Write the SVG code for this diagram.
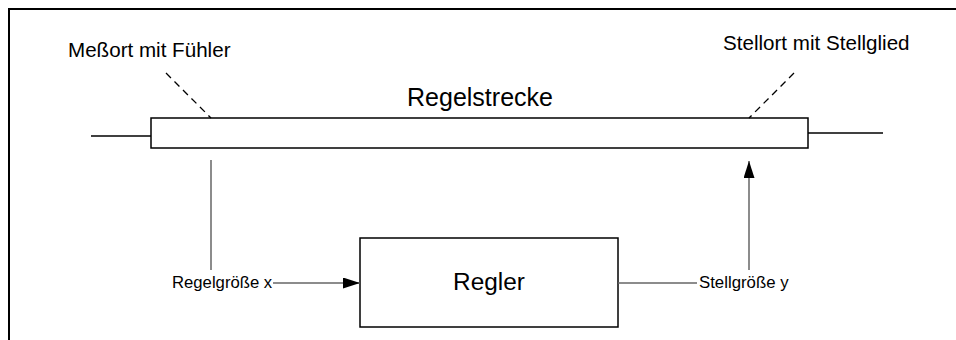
<svg xmlns="http://www.w3.org/2000/svg" width="956" height="340" viewBox="0 0 956 340">
<defs>
<style>
text{font-family:"Liberation Sans",Arial,sans-serif;fill:#000}
.box{fill:#fff;stroke:#000;stroke-width:1.5}
.ln{fill:none;stroke:#000;stroke-width:1.5}
.cn{fill:none;stroke:#666;stroke-width:1.5}
.dash{fill:none;stroke:#000;stroke-width:1.3;stroke-dasharray:7 5}
</style>
<marker id="ah" viewBox="0 0 17 11" refX="17" refY="5.5" markerWidth="17" markerHeight="11" markerUnits="userSpaceOnUse" orient="auto">
<path d="M0,0 L17,5.5 L0,11 Z" fill="#000"/>
</marker>
</defs>
<rect width="956" height="340" fill="#fff"/>
<g id="frame">
<path d="M9,340 V9 H956" fill="none" stroke="#000" stroke-width="2"/>
</g>
<g id="regelstrecke">
<line class="ln" x1="91" y1="136" x2="151" y2="136"/>
<line class="ln" x1="808" y1="133" x2="883" y2="133"/>
<rect class="box" x="151" y="118" width="657" height="30"/>
<text x="480" y="106" font-size="25" text-anchor="middle">Regelstrecke</text>
</g>
<g id="messort">
<line class="dash" x1="166" y1="73" x2="211" y2="118"/>
<text x="68" y="57" font-size="20.6">Meßort mit Fühler</text>
</g>
<g id="stellort">
<line class="dash" x1="794" y1="73" x2="749" y2="118"/>
<text x="723" y="50" font-size="20.6">Stellort mit Stellglied</text>
</g>
<g id="regler">
<rect class="box" x="360" y="238" width="258" height="89"/>
<text x="489" y="290" font-size="24.4" text-anchor="middle">Regler</text>
</g>
<g id="labels">
<text x="172" y="288" font-size="16.7">Regelgröße x</text>
<text x="699" y="288" font-size="16.8">Stellgröße y</text>
</g>
<g id="connectors">
<line class="cn" x1="211" y1="160" x2="211" y2="270"/>
<line class="cn" x1="273" y1="283" x2="360" y2="283" marker-end="url(#ah)"/>
<line class="cn" x1="618" y1="283" x2="697" y2="283"/>
<line class="cn" x1="749" y1="270" x2="749" y2="161" marker-end="url(#ah)"/>
</g>
</svg>
